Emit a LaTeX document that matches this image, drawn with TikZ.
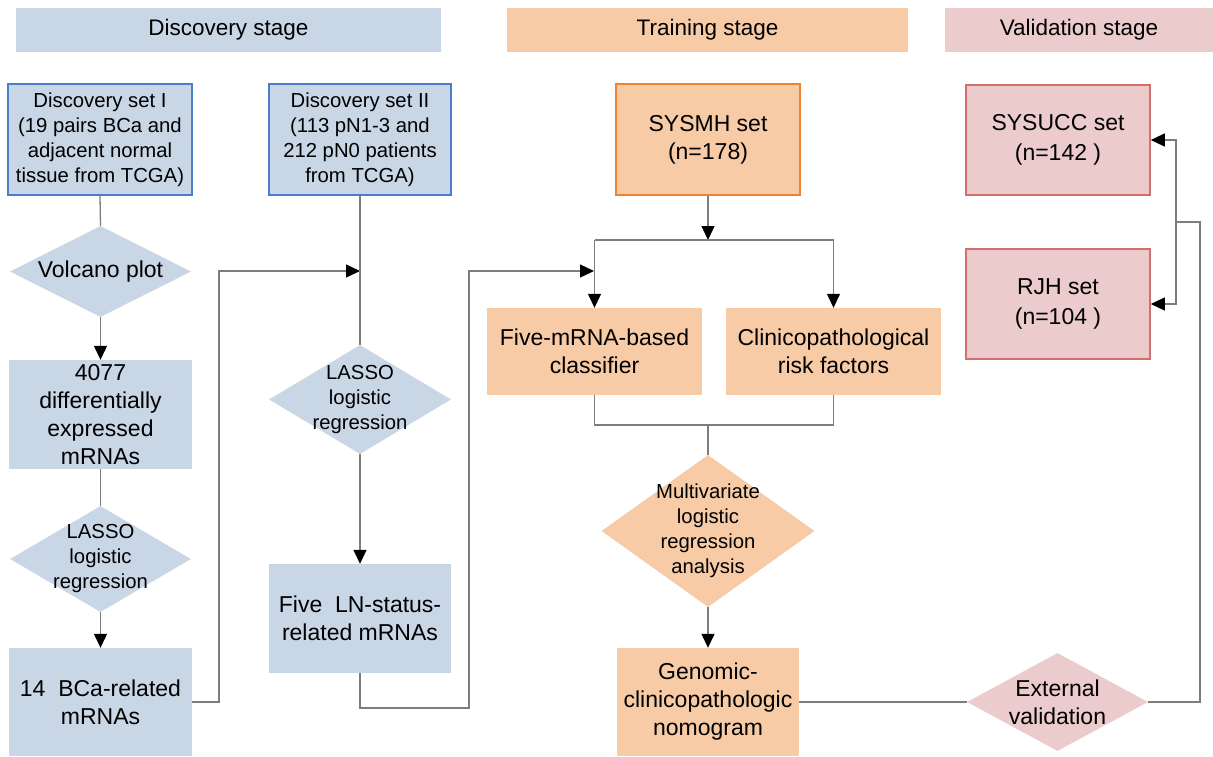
\documentclass[tikz,border=0pt]{standalone}
\usepackage{fontspec}
\setmainfont{Liberation Sans}
\usetikzlibrary{shapes.geometric,arrows.meta}
\definecolor{bluef}{RGB}{201,214,230}
\definecolor{blued}{RGB}{72,126,204}
\definecolor{orangef}{RGB}{248,203,167}
\definecolor{oranged}{RGB}{240,130,50}
\definecolor{pinkf}{RGB}{235,203,204}
\definecolor{pinkd}{RGB}{212,110,110}
\definecolor{linec}{RGB}{125,125,125}
\tikzset{
  sz/.style 2 args={minimum width=#1pt, minimum height=#2pt},
  rbox/.style={rectangle, inner sep=0pt},
  dia/.style={diamond, inner sep=0pt},
  conn/.style={draw=linec, line width=1.3pt},
  arr/.style={conn, -{Triangle[length=14pt,width=13pt,color=black]}},
  sm/.style={font=\fontsize{20.3}{25}\selectfont, align=center, inner sep=0pt},
  lg/.style={font=\fontsize{23}{28}\selectfont, align=center, inner sep=0pt},
  hdr/.style={rectangle, inner sep=0pt, font=\fontsize{22.5}{27}\selectfont},
  bb/.style={draw=blued, line width=1.8pt},
  ob/.style={draw=oranged, line width=1.8pt},
  pb/.style={draw=pinkd, line width=1.6pt},
}
\begin{document}
\begin{tikzpicture}[x=1pt,y=-1pt]
\useasboundingbox (0,0) rectangle (1213,756);
% headers
\node[hdr, fill=bluef, sz={425}{44}] (h1) at (228.5,30) {Discovery stage};
\node[hdr, fill=orangef, sz={401}{44}] (h2) at (707.5,30) {Training stage};
\node[hdr, fill=pinkf, sz={268}{44}] (h3) at (1079,30) {Validation stage};
% discovery column 1
\node[rbox, bb, fill=bluef, sz={184}{111}, sm] (ds1) at (100,139.5) {Discovery set I\\(19 pairs BCa and\\adjacent normal\\tissue from TCGA)};
\node[dia, fill=bluef, sz={181}{91}] (volc) at (100.5,271.5) {};
\node[lg] (volcT) at (volc) {Volcano plot};
\node[rbox, fill=bluef, sz={183}{109}, lg] (b4077) at (100.5,414.5) {4077\\differentially\\expressed\\mRNAs};
\node[dia, fill=bluef, sz={181}{106}] (las1) at (100.5,559) {};
\node[sm] (las1T) at (las1) {LASSO\\logistic\\regression};
\node[rbox, fill=bluef, sz={183}{108}, lg] (b14) at (100.5,702) {14~ BCa-related\\mRNAs};
% discovery column 2
\node[rbox, bb, fill=bluef, sz={182}{111}, sm] (ds2) at (360,139.5) {Discovery set II\\(113 pN1-3 and\\212 pN0 patients\\from TCGA)};
\node[dia, fill=bluef, sz={182}{109}] (las2) at (360,399.5) {};
\node[sm] (las2T) at (las2) {LASSO\\logistic\\regression};
\node[rbox, fill=bluef, sz={182}{109}, lg] (five) at (360,618.5) {Five~ LN-status-\\related mRNAs};
% training
\node[rbox, ob, fill=orangef, sz={184}{111}, lg] (sysmh) at (708,139.5) {SYSMH set\\(n=178)};
\node[rbox, fill=orangef, sz={215}{87}, lg] (fivem) at (594.5,351.5) {Five-mRNA-based\\classifier};
\node[rbox, fill=orangef, sz={215}{87}, lg] (clin) at (833.5,351.5) {Clinicopathological\\risk factors};
\node[dia, fill=orangef, sz={213}{152}] (multi) at (708,531) {};
\node[sm] (multiT) at (multi) {Multivariate\\logistic\\regression\\analysis};
\node[rbox, fill=orangef, sz={182}{108}, lg] (gen) at (708,702) {Genomic-\\clinicopathologic\\nomogram};
% validation
\node[rbox, pb, fill=pinkf, sz={184}{110}, font=\fontsize{23}{30}\selectfont, align=center] (sysucc) at (1058,140) {SYSUCC set\\(n=142 )};
\node[rbox, pb, fill=pinkf, sz={184}{110}, font=\fontsize{23}{30}\selectfont, align=center] (rjh) at (1058,304) {RJH set\\(n=104 )};
\node[dia, fill=pinkf, sz={181}{98}] (ext) at (1057.5,702) {};
\node[lg] (extT) at (ext) {External\\validation};
% helper coordinates
\coordinate (j1) at (360,271);
\coordinate (j2) at (594,271);
\coordinate (j3) at (708,240);
\coordinate (j4) at (708,425);
\coordinate (k1) at (219,702);
\coordinate (k2) at (469,708);
\coordinate (k3) at (1200,702);
\coordinate (k4) at (1176,222);
% connectors
\draw[conn] (ds1.south) -- (volc.north);
\draw[arr] (volc.south) -- (b4077.north);
\draw[conn] (b4077.south) -- (las1.north);
\draw[arr] (las1.south) -- (b14.north);
\draw[arr] (b14.east) -- (k1) |- (j1);
\draw[conn] (ds2.south) -- (las2.north);
\draw[arr] (las2.south) -- (five.north);
\draw[arr] (five.south) |- (k2) |- (j2);
\draw[arr] (sysmh.south) -- (j3);
\draw[conn] (fivem.north |- j3) -- (clin.north |- j3);
\draw[arr] (fivem.north |- j3) -- (fivem.north);
\draw[arr] (clin.north |- j3) -- (clin.north);
\draw[conn] (fivem.south) |- (j4) -| (clin.south);
\draw[conn] (j4) -- (multi.north);
\draw[arr] (multi.south) -- (gen.north);
\draw[conn] (gen.east) -- (ext.west);
\draw[conn] (ext.east) -- (k3) |- (k4);
\draw[arr] (k4) |- (sysucc.east);
\draw[arr] (k4) |- (rjh.east);
\end{tikzpicture}
\end{document}
